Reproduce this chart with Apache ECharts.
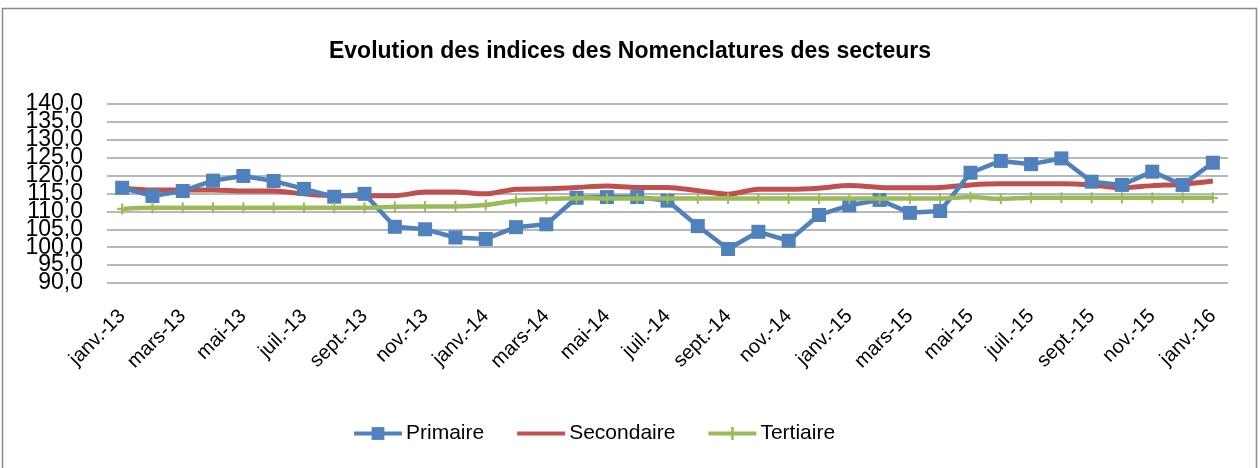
<!DOCTYPE html>
<html><head><meta charset="utf-8">
<script src="https://cdn.jsdelivr.net/npm/echarts@6/dist/echarts.min.js"></script>
<style>html,body{margin:0;padding:0;background:#fff}#c{width:1260px;height:468px}</style>
</head><body><div id="c"></div>
<script>
const categories = ["janv.-13","févr.-13","mars-13","avr.-13","mai-13","juin-13","juil.-13","août-13","sept.-13","oct.-13","nov.-13","déc.-13",
"janv.-14","févr.-14","mars-14","avr.-14","mai-14","juin-14","juil.-14","août-14","sept.-14","oct.-14","nov.-14","déc.-14",
"janv.-15","févr.-15","mars-15","avr.-15","mai-15","juin-15","juil.-15","août-15","sept.-15","oct.-15","nov.-15","déc.-15","janv.-16"];
const primaire = [116.6,114.3,115.7,118.6,119.9,118.5,116.3,114.1,114.9,105.7,105.0,102.7,
102.3,105.6,106.4,113.8,114.0,114.0,113.0,105.9,99.5,104.3,101.8,109.0,
111.7,113.2,109.6,110.1,120.8,124.1,123.2,124.8,118.3,117.4,121.1,117.4,123.6];
const secondaire = [116.5,116.0,116.0,116.0,115.7,115.7,114.9,114.4,114.4,114.4,115.4,115.4,
114.9,116.2,116.3,116.7,117.1,116.7,116.7,115.8,114.8,116.2,116.2,116.5,
117.2,116.7,116.6,116.7,117.4,117.7,117.7,117.7,117.4,116.6,117.2,117.6,118.5];
const tertiaire = [110.7,111.0,111.0,111.0,111.0,111.0,111.0,111.0,111.0,111.3,111.4,111.4,
111.8,113.0,113.5,113.7,113.6,113.6,113.6,113.6,113.6,113.6,113.6,113.6,
113.6,113.6,113.6,113.6,114.0,113.5,113.8,113.8,113.8,113.8,113.8,113.8,113.8];
const seriesNames = ["Primaire","Secondaire","Tertiaire"];
const yTicks = {min: 90, max: 140, step: 5};

const font = '"Liberation Sans", Arial, sans-serif';
const chart = echarts.init(document.getElementById('c'), null, {renderer: 'canvas'});
const plus = 'path://M4,0 L6,0 L6,4 L10,4 L10,6 L6,6 L6,10 L4,10 L4,6 L0,6 L0,4 L4,4 Z';
const colors = ['#4F81BD', '#C0504D', '#9BBB59'];
const fmt = v => v.toFixed(1).replace('.', ',');
const yLabel = {fontFamily: font, fontSize: 23, lineHeight: 16, color: '#000', margin: 24, hideOverlap: false};
chart.setOption({
  animation: false,
  backgroundColor: '#fff',
  graphic: [{type: 'rect', shape: {x: 2.5, y: 8.5, width: 1254, height: 470}, style: {fill: 'none', stroke: '#898989', lineWidth: 1.5}, silent: true}],
  title: {text: 'Evolution des indices des Nomenclatures des secteurs', left: 'center', top: 35,
    textStyle: {fontFamily: font, fontWeight: 'bold', fontSize: 23, color: '#000'}},
  legend: {top: 418, left: 347, itemWidth: 48, itemHeight: 16, itemGap: 31,
    textStyle: {fontFamily: font, fontSize: 21, color: '#000', padding: [0, 0, 0, -1]},
    data: [
      {name: seriesNames[0], itemStyle: {color: colors[0]}, lineStyle: {color: colors[0], width: 4}},
      {name: seriesNames[1], itemStyle: {color: 'rgba(0,0,0,0)', borderColor: 'rgba(0,0,0,0)', borderWidth: 0}, lineStyle: {color: colors[1], width: 4, opacity: 1}},
      {name: seriesNames[2], itemStyle: {color: colors[2]}, lineStyle: {color: colors[2], width: 4}}
    ]},
  grid: {left: 107, right: 32, top: 104, bottom: 185, containLabel: false},
  xAxis: {type: 'category', data: categories, boundaryGap: true,
    axisLine: {show: false}, axisTick: {show: false},
    axisLabel: {rotate: 45, interval: 1, fontFamily: font, fontSize: 20, color: '#000', margin: 30}},
  yAxis: [
    {type: 'value', position: 'left', min: yTicks.min, max: yTicks.max, interval: yTicks.step,
      axisLine: {show: false}, axisTick: {show: false},
      splitLine: {lineStyle: {color: '#a0a0a0', width: 1.5}},
      axisLabel: Object.assign({}, yLabel, {showMinLabel: true, showMaxLabel: true,
        formatter: v => (Math.round(v) % 10 === 0 ? fmt(v) : '')})},
    {type: 'value', position: 'left', offset: 0, min: yTicks.min, max: yTicks.max, interval: yTicks.step,
      axisLine: {show: false}, axisTick: {show: false}, splitLine: {show: false},
      axisLabel: Object.assign({}, yLabel, {showMinLabel: false, showMaxLabel: false,
        formatter: v => (Math.round(v) % 10 === 5 ? fmt(v) : '')})}
  ],
  series: [
    {name: seriesNames[0], type: 'line', data: primaire, symbol: 'rect', symbolSize: 14,
      itemStyle: {color: colors[0]}, lineStyle: {color: colors[0], width: 4.5}, z: 3},
    {name: seriesNames[1], type: 'line', data: secondaire, symbol: 'none', smooth: 0.3,
      itemStyle: {color: colors[1]}, lineStyle: {color: colors[1], width: 5}, z: 2},
    {name: seriesNames[2], type: 'line', data: tertiaire, symbol: plus, symbolSize: [10, 11], smooth: 0.3,
      itemStyle: {color: colors[2]}, lineStyle: {color: colors[2], width: 4.5}, z: 4}
  ]
});
</script></body></html>
